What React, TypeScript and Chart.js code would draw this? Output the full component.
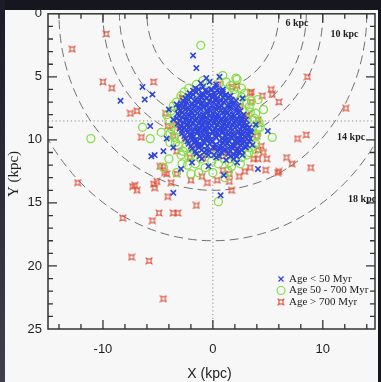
import { useEffect, useRef } from 'react';
import { Chart, registerables } from 'chart.js';

Chart.register(...registerables);

// ---------- data ----------
const xTickValues = [-10, 0, 10];
const yTickValues = [0, 5, 10, 15, 20, 25];
const circleRadii = [6, 8.5, 10, 14, 18];
const circleLabels = ['6 kpc', '10 kpc', '14 kpc', '18 kpc'];
const legendLabels = ['Age < 50 Myr', 'Age 50 - 700 Myr', 'Age > 700 Myr'];
const sunDistance = 8.5;

// Age < 50 Myr (blue crosses)
const youngStars: number[][] = [
  [-8.4, 6.9], [-6.4, 5.8], [-5.5, 6.4], [-6.2, 6.8], [-5.7, 8.9], [-5.6, 11.3], [-5.3, 11.2], [-4.5, 10.9],
  [-4.2, 9.9], [-3.6, 10.6], [-3.6, 8.4], [-1.8, 3.3], [-1.5, 4.3], [-0.6, 5.1], [0.6, 5.0], [5.0, 9.3],
  [4.1, 12.3], [2.2, 11.8], [2.7, 11.2], [-3.6, 14.2], [0.7, 14.4], [2.7, 6.7], [-3.3, 7.2], [-2.9, 12.3],
  [1.0, 12.8], [-0.4, 12.1], [3.6, 10.4], [3.9, 8.8], [-4.0, 7.6], [-1.9, 11.8],
  [-1.1, 5.5], [-0.3, 5.4], [0.3, 5.6],
  [-1.6, 5.9], [-0.9, 5.8], [-0.2, 6.0], [0.3, 5.8], [0.9, 6.0],
  [-2.1, 6.3], [-1.5, 6.2], [-1.0, 6.4], [-0.4, 6.2], [0.1, 6.3], [0.6, 6.2], [1.2, 6.4],
  [-2.5, 6.7], [-2.0, 6.6], [-1.5, 6.8], [-1.0, 6.6], [-0.6, 6.7], [-0.1, 6.6], [0.4, 6.8], [0.9, 6.6], [1.4, 6.7],
  [-2.9, 7.1], [-2.4, 7.0], [-1.9, 7.2], [-1.4, 7.0], [-1.0, 7.1], [-0.5, 7.2], [0.0, 7.0], [0.5, 7.1], [1.0, 7.0],
  [1.5, 7.2], [1.9, 7.1],
  [-3.1, 7.5], [-2.6, 7.4], [-2.2, 7.6], [-1.7, 7.4], [-1.2, 7.5], [-0.8, 7.4], [-0.3, 7.6], [0.2, 7.5], [0.6, 7.4],
  [1.1, 7.6], [1.6, 7.4], [2.1, 7.5],
  [-3.2, 7.9], [-2.8, 7.8], [-2.3, 8.0], [-1.9, 7.8], [-1.4, 7.9], [-0.9, 8.0], [-0.5, 7.8], [0.0, 7.9], [0.4, 8.0],
  [0.9, 7.8], [1.3, 7.9], [1.8, 8.0], [2.3, 7.8],
  [-3.3, 8.3], [-2.8, 8.2], [-2.4, 8.4], [-1.9, 8.2], [-1.5, 8.3], [-1.0, 8.4], [-0.6, 8.2], [-0.1, 8.3], [0.3, 8.2],
  [0.8, 8.4], [1.2, 8.3], [1.7, 8.2], [2.2, 8.4], [2.6, 8.3],
  [-3.2, 8.7], [-2.7, 8.6], [-2.3, 8.8], [-1.8, 8.6], [-1.3, 8.7], [-0.9, 8.8], [-0.4, 8.6], [0.1, 8.7], [0.5, 8.6],
  [1.0, 8.8], [1.4, 8.7], [1.9, 8.6], [2.4, 8.8], [2.8, 8.7],
  [-3.0, 9.1], [-2.6, 9.0], [-2.1, 9.2], [-1.6, 9.0], [-1.2, 9.1], [-0.7, 9.2], [-0.3, 9.0], [0.2, 9.1], [0.7, 9.0],
  [1.1, 9.2], [1.6, 9.1], [2.0, 9.0], [2.5, 9.2], [2.9, 9.1], [3.3, 9.0],
  [-2.8, 9.5], [-2.3, 9.4], [-1.9, 9.6], [-1.4, 9.4], [-1.0, 9.5], [-0.5, 9.6], [0.0, 9.4], [0.4, 9.5], [0.9, 9.4],
  [1.4, 9.6], [1.8, 9.5], [2.3, 9.4], [2.7, 9.6], [3.1, 9.5], [3.5, 9.4],
  [-2.5, 9.9], [-2.0, 9.8], [-1.6, 10.0], [-1.1, 9.8], [-0.7, 9.9], [-0.2, 10.0], [0.3, 9.8], [0.8, 9.9], [1.2, 10.0],
  [1.7, 9.8], [2.1, 9.9], [2.6, 10.0], [3.0, 9.8], [3.4, 9.9],
  [-2.2, 10.3], [-1.7, 10.2], [-1.3, 10.4], [-0.8, 10.2], [-0.3, 10.3], [0.2, 10.4], [0.9, 10.2], [1.3, 10.3],
  [1.8, 10.4], [2.2, 10.2], [2.7, 10.3], [3.1, 10.4],
  [-1.9, 10.7], [-1.3, 10.6], [-0.6, 10.8], [0.0, 10.6], [0.7, 10.7], [1.2, 10.8], [1.7, 10.6], [2.2, 10.7],
  [2.6, 10.8], [3.0, 10.6],
  [-1.5, 11.1], [-0.8, 11.0], [0.1, 11.2], [0.8, 11.0], [1.4, 11.1], [1.9, 11.2], [2.4, 11.0],
  [-1.0, 11.5], [0.3, 11.4], [1.2, 11.6], [1.9, 11.5],
  // second, interleaved layer of the dense core
  [-1.8, 6.1], [-1.3, 6.0], [-0.7, 6.1], [-0.1, 6.0], [0.4, 6.1], [0.9, 6.2],
  [-2.3, 6.5], [-1.8, 6.4], [-1.2, 6.5], [-0.8, 6.4], [-0.3, 6.5], [0.2, 6.5], [0.7, 6.4], [1.1, 6.5], [1.6, 6.5],
  [-2.7, 6.9], [-2.2, 6.8], [-1.7, 6.9], [-1.2, 6.8], [-0.8, 6.9], [-0.3, 6.9], [0.2, 6.8], [0.7, 6.9], [1.2, 6.9],
  [1.7, 6.8], [2.1, 6.9],
  [-3.0, 7.3], [-2.5, 7.2], [-2.1, 7.3], [-1.6, 7.3], [-1.1, 7.2], [-0.6, 7.3], [-0.1, 7.3], [0.3, 7.2], [0.8, 7.3],
  [1.3, 7.3], [1.8, 7.2], [2.3, 7.3],
  [-3.0, 7.7], [-2.5, 7.6], [-2.0, 7.7], [-1.6, 7.7], [-1.1, 7.6], [-0.6, 7.7], [-0.2, 7.7], [0.3, 7.6], [0.7, 7.7],
  [1.2, 7.7], [1.6, 7.6], [2.1, 7.7], [2.5, 7.7],
  [-3.1, 8.1], [-2.6, 8.0], [-2.1, 8.1], [-1.7, 8.1], [-1.2, 8.0], [-0.8, 8.1], [-0.3, 8.1], [0.1, 8.0], [0.6, 8.1],
  [1.0, 8.1], [1.5, 8.0], [2.0, 8.1], [2.4, 8.1], [2.8, 8.0],
  [-3.0, 8.5], [-2.5, 8.4], [-2.1, 8.5], [-1.6, 8.5], [-1.1, 8.4], [-0.7, 8.5], [-0.2, 8.5], [0.3, 8.4], [0.7, 8.5],
  [1.2, 8.5], [1.7, 8.4], [2.1, 8.5], [2.6, 8.5], [3.0, 8.4],
  [-2.9, 8.9], [-2.4, 8.8], [-2.0, 8.9], [-1.5, 8.9], [-1.0, 8.8], [-0.5, 8.9], [-0.1, 8.9], [0.4, 8.8], [0.9, 8.9],
  [1.3, 8.9], [1.8, 8.8], [2.2, 8.9], [2.7, 8.9], [3.1, 8.8],
  [-2.8, 9.3], [-2.4, 9.2], [-1.8, 9.3], [-1.4, 9.3], [-0.9, 9.2], [-0.5, 9.3], [0.0, 9.3], [0.5, 9.2], [0.9, 9.3],
  [1.4, 9.3], [1.8, 9.2], [2.3, 9.3], [2.7, 9.3], [3.1, 9.2], [3.4, 9.3],
  [-2.6, 9.7], [-2.1, 9.6], [-1.7, 9.7], [-1.2, 9.7], [-0.8, 9.6], [-0.3, 9.7], [0.2, 9.7], [0.6, 9.6], [1.1, 9.7],
  [1.6, 9.7], [2.0, 9.6], [2.5, 9.7], [2.9, 9.7], [3.3, 9.6],
  [-2.3, 10.1], [-1.9, 10.0], [-1.4, 10.1], [-0.9, 10.1], [-0.5, 10.0], [0.0, 10.1], [0.6, 10.1], [1.1, 10.0],
  [1.5, 10.1], [2.0, 10.1], [2.4, 10.0], [2.9, 10.1], [3.3, 10.1],
  [-2.0, 10.5], [-1.5, 10.4], [-1.0, 10.5], [-0.5, 10.5], [0.2, 10.6], [0.7, 10.5], [1.1, 10.4], [1.6, 10.5],
  [2.0, 10.5], [2.5, 10.4], [2.9, 10.5],
  [-1.6, 10.9], [-1.0, 10.8], [-0.3, 10.9], [0.4, 10.9], [1.0, 10.8], [1.6, 10.9], [2.1, 10.9], [2.6, 10.8],
  [-1.2, 11.3], [-0.4, 11.2], [0.6, 11.3], [1.6, 11.3], [2.2, 11.3],
];

// Age 50 - 700 Myr (green circles)
const midStars: number[][] = [
  [-11.1, 9.9], [-6.4, 9.0], [-5.7, 9.9], [-4.7, 9.4], [-4.5, 12.2], [-1.1, 2.5], [2.1, 5.1], [0.9, 4.9],
  [4.1, 6.8], [5.4, 9.8], [3.6, 8.4], [1.1, 13.0], [-1.3, 12.6], [0.5, 14.9], [-2.8, 11.9], [2.6, 5.9],
  [3.5, 6.9], [2.2, 5.2], [4.3, 9.0], [3.9, 10.8], [-4.0, 11.5], [-3.3, 12.6], [4.6, 7.6],
  [-1.5, 5.6], [-0.5, 5.5], [0.6, 5.5], [1.6, 5.7],
  [-2.6, 6.2], [-1.8, 6.4], [1.3, 6.2], [2.0, 6.4], [2.9, 6.3],
  [-3.3, 7.0], [-2.6, 6.9], [-0.8, 7.1], [1.1, 7.0], [2.4, 6.9], [3.1, 7.1],
  [-3.8, 7.7], [-3.0, 7.6], [-1.2, 7.8], [0.6, 7.7], [2.7, 7.6], [3.4, 7.8],
  [-4.0, 8.4], [-3.4, 8.5], [-2.0, 8.3], [0.0, 8.4], [1.8, 8.5], [3.1, 8.4], [3.8, 8.3],
  [-3.8, 9.1], [-3.3, 9.2], [-1.0, 9.0], [0.9, 9.1], [3.6, 9.2], [4.1, 9.1],
  [-3.5, 9.8], [-2.9, 9.9], [-0.3, 9.7], [1.5, 9.8], [3.8, 9.8],
  [-3.1, 10.5], [-2.5, 10.6], [-0.9, 10.4], [1.0, 10.5], [3.5, 10.6],
  [-2.9, 11.2], [-2.2, 11.3], [-0.3, 11.1], [1.0, 11.5], [2.0, 11.4], [3.1, 11.2],
  [-2.3, 12.0], [-1.6, 11.9], [-0.7, 12.2], [0.5, 11.9], [1.7, 12.1], [2.5, 11.9],
  [-2.0, 12.7], [0.0, 12.6], [1.4, 12.5],
  [-0.5, 8.0], [1.5, 8.0], [-1.6, 9.6], [2.2, 9.7], [0.3, 10.9], [-2.2, 7.3], [2.0, 10.7], [-1.5, 10.8],
  [-3.9, 10.2], [-4.2, 8.0], [-3.6, 7.3], [-2.9, 6.5], [-2.2, 5.9], [-0.9, 5.3], [1.2, 5.4], [1.9, 6.0],
  [2.6, 6.6], [3.3, 7.4], [3.9, 7.9], [4.2, 8.6], [4.0, 9.6], [3.9, 10.3], [3.3, 11.0], [2.6, 11.4],
  [1.5, 11.8], [-0.1, 11.7], [-1.1, 11.5], [-2.0, 11.2], [-2.7, 10.9], [-3.4, 10.2], [-3.9, 9.5],
];

// Age > 700 Myr (red symbols)
const oldStars: number[][] = [
  [-9.7, 1.6], [-12.8, 2.8], [-10.0, 5.4], [-9.2, 5.9], [-5.4, 5.4], [-7.5, 7.9], [-6.9, 7.7], [-6.5, 9.8],
  [-12.3, 13.4], [-7.1, 13.6], [-5.4, 13.5], [-7.3, 13.7], [-6.9, 14.0], [-5.3, 13.8], [-5.1, 13.3], [-8.2, 16.2],
  [-7.4, 19.3], [-5.8, 19.6], [-4.5, 22.6], [-5.5, 16.4], [-4.9, 15.8], [-3.6, 15.8], [-3.2, 15.8], [-4.1, 14.5],
  [-1.5, 15.2], [1.7, 14.0], [8.6, 5.0], [12.1, 7.5], [3.5, 6.2], [5.3, 6.0], [5.4, 6.4], [4.5, 6.5],
  [3.5, 7.0], [6.0, 7.0], [4.1, 8.4], [3.1, 8.1], [8.5, 9.6], [7.7, 9.9], [4.0, 9.7], [4.4, 10.5],
  [4.1, 10.8], [4.9, 11.5], [6.7, 11.4], [7.2, 11.9], [5.9, 12.6], [3.4, 12.2], [4.1, 11.5], [1.5, 12.7],
  [1.5, 13.3], [0.4, 13.2], [-0.5, 13.4], [8.9, 12.2], [6.0, 12.5], [4.8, 12.4], [3.7, 11.5], [4.6, 11.0],
  [-4.5, 12.1], [-4.2, 12.7], [-3.3, 12.7], [-2.8, 6.7], [-4.3, 7.9], [-4.1, 8.9], [-3.0, 9.0], [-3.6, 9.7],
  [-2.7, 6.7], [-2.8, 7.7], [-3.5, 8.8], [-2.5, 9.9], [-3.3, 10.9], [-1.6, 10.5], [-2.1, 11.4], [-0.9, 11.4],
  [0.9, 11.3], [0.2, 10.7], [1.4, 11.0], [2.3, 10.5], [2.3, 9.6], [3.2, 9.1], [3.2, 9.9], [3.4, 6.3],
  [2.5, 7.3], [2.9, 8.1], [0.5, 5.6], [2.2, 5.7], [-4.8, 12.1], [-4.4, 12.6], [1.7, 5.8],
  [-2.0, 13.2], [-1.0, 12.9], [0.9, 12.4], [2.4, 12.9], [2.9, 12.5], [-3.8, 13.4],
];

// ---------- styles ----------
const BLUE = '#2f43e0';
const GREEN = '#86dd45';
const RED = '#de4a34';
const FRAME = '#333333';

function makeOldMarker(color: string) {
  const c = document.createElement('canvas');
  c.width = 8;
  c.height = 8;
  const g = c.getContext('2d')!;
  g.strokeStyle = color;
  g.lineWidth = 1.1;
  g.strokeRect(2, 2, 4, 4);
  g.beginPath();
  g.moveTo(0.6, 0.6); g.lineTo(2.2, 2.2);
  g.moveTo(7.4, 0.6); g.lineTo(5.8, 2.2);
  g.moveTo(0.6, 7.4); g.lineTo(2.2, 5.8);
  g.moveTo(7.4, 7.4); g.lineTo(5.8, 5.8);
  g.stroke();
  return c;
}

const toPoints = (arr: number[][]) => arr.map(([x, y]) => ({ x, y }));

export default function App() {
  const ref = useRef<HTMLCanvasElement | null>(null);

  useEffect(() => {
    document.body.style.margin = '0';
    const canvas = ref.current;
    if (!canvas) return;
    const oldMarker = makeOldMarker(RED);

    const decor = {
      id: 'decor',
      beforeDatasetsDraw(chart: any) {
        const { ctx, chartArea: a, scales } = chart;
        const x = scales.x;
        const y = scales.y;
        ctx.save();
        ctx.beginPath();
        ctx.rect(a.left, a.top, a.right - a.left, a.bottom - a.top);
        ctx.clip();
        const x0 = x.getPixelForValue(0);
        const y0 = y.getPixelForValue(0);
        ctx.strokeStyle = '#8c8c8c';
        ctx.lineWidth = 1;
        ctx.setLineDash([1.2, 2.6]);
        ctx.beginPath();
        ctx.moveTo(x0, a.top);
        ctx.lineTo(x0, a.bottom);
        ctx.stroke();
        const ys = y.getPixelForValue(sunDistance);
        ctx.beginPath();
        ctx.moveTo(a.left, ys);
        ctx.lineTo(a.right, ys);
        ctx.stroke();
        ctx.setLineDash([9, 5]);
        ctx.strokeStyle = '#707070';
        for (const r of circleRadii) {
          const rx = Math.abs(x.getPixelForValue(r) - x0);
          const ry = Math.abs(y.getPixelForValue(r) - y0);
          ctx.beginPath();
          ctx.ellipse(x0, y0, rx, ry, 0, 0, Math.PI);
          ctx.stroke();
        }
        ctx.restore();
      },
      afterDatasetsDraw(chart: any) {
        const { ctx, chartArea: a, scales } = chart;
        const x = scales.x;
        const y = scales.y;
        ctx.save();
        ctx.setLineDash([]);
        ctx.strokeStyle = FRAME;
        ctx.lineWidth = 1.5;
        ctx.strokeRect(a.left, a.top, a.right - a.left, a.bottom - a.top);
        ctx.lineWidth = 1.3;
        ctx.beginPath();
        for (let v = -14; v <= 14; v += 2) {
          const px = x.getPixelForValue(v);
          const len = v % 10 === 0 ? 9 : 5;
          ctx.moveTo(px, a.bottom); ctx.lineTo(px, a.bottom - len);
          ctx.moveTo(px, a.top); ctx.lineTo(px, a.top + len);
        }
        for (let v = 1; v < 25; v += 1) {
          const py = y.getPixelForValue(v);
          const len = v % 5 === 0 ? 9 : 5;
          ctx.moveTo(a.left, py); ctx.lineTo(a.left + len, py);
          ctx.moveTo(a.right, py); ctx.lineTo(a.right - len, py);
        }
        ctx.stroke();

        ctx.fillStyle = '#222';
        ctx.font = 'bold 10px "Liberation Serif"';
        ctx.textBaseline = 'middle';
        ctx.textAlign = 'left';
        const labelAnchors = [[6.6, 0.75], [10.7, 1.65], [11.3, 9.8], [12.3, 14.75]];
        circleLabels.forEach((t, i) => {
          ctx.fillText(t, x.getPixelForValue(labelAnchors[i][0]), y.getPixelForValue(labelAnchors[i][1]));
        });

        const lx = 281;
        const lys = [279, 290.5, 302];
        ctx.font = '11px "Liberation Serif"';
        ctx.fillStyle = '#222';
        legendLabels.forEach((t, i) => ctx.fillText(t, lx + 8, lys[i]));
        ctx.strokeStyle = BLUE;
        ctx.lineWidth = 1.2;
        ctx.beginPath();
        ctx.moveTo(lx - 2.5, lys[0] - 2.5); ctx.lineTo(lx + 2.5, lys[0] + 2.5);
        ctx.moveTo(lx + 2.5, lys[0] - 2.5); ctx.lineTo(lx - 2.5, lys[0] + 2.5);
        ctx.stroke();
        ctx.strokeStyle = GREEN;
        ctx.beginPath();
        ctx.arc(lx, lys[1], 4, 0, Math.PI * 2);
        ctx.stroke();
        ctx.drawImage(oldMarker, lx - 4, lys[2] - 4);

        ctx.fillStyle = '#222';
        ctx.font = '14px "Liberation Sans"';
        ctx.textAlign = 'center';
        ctx.fillText('X (kpc)', (a.left + a.right) / 2 - 2, 374);
        ctx.save();
        ctx.translate(14, 174);
        ctx.rotate(-Math.PI / 2);
        ctx.font = '15px "Liberation Serif"';
        ctx.fillText('Y (kpc)', 0, 0);
        ctx.restore();
        ctx.restore();
      },
    };

    const chart = new Chart(canvas, {
      type: 'scatter',
      data: {
        datasets: [
          {
            label: legendLabels[0],
            data: toPoints(youngStars),
            pointStyle: 'crossRot',
            radius: 3.8,
            borderColor: BLUE,
            backgroundColor: BLUE,
            borderWidth: 1.6,
            order: 1,
          },
          {
            label: legendLabels[1],
            data: toPoints(midStars),
            pointStyle: 'circle',
            radius: 4,
            borderColor: GREEN,
            backgroundColor: 'rgba(0,0,0,0)',
            borderWidth: 1.3,
            order: 2,
          },
          {
            label: legendLabels[2],
            data: toPoints(oldStars),
            pointStyle: oldMarker as any,
            radius: 4,
            borderColor: RED,
            backgroundColor: RED,
            order: 3,
          },
        ],
      },
      options: {
        animation: false,
        responsive: false,
        devicePixelRatio: 1,
        events: [],
        layout: { padding: { top: 12, right: 6, left: 0, bottom: 0 } },
        plugins: { legend: { display: false }, tooltip: { enabled: false } },
        scales: {
          x: {
            type: 'linear',
            min: -15,
            max: 14.75,
            grid: { display: false, drawTicks: false },
            border: { display: false },
            afterBuildTicks: (s: any) => { s.ticks = xTickValues.map((v) => ({ value: v })); },
            afterFit: (s: any) => { s.height = 53; },
            ticks: { color: '#1e1e1e', padding: 13, font: { family: '"Liberation Sans"', size: 13 } },
          },
          y: {
            type: 'linear',
            reverse: true,
            min: 0,
            max: 25,
            grid: { display: false, drawTicks: false },
            border: { display: false },
            afterBuildTicks: (s: any) => { s.ticks = yTickValues.map((v) => ({ value: v })); },
            afterFit: (s: any) => { s.width = 48; },
            ticks: { color: '#1e1e1e', padding: 6, font: { family: '"Liberation Sans"', size: 13 } },
          },
        },
      },
      plugins: [decor],
    });
    return () => chart.destroy();
  }, []);

  return (
    <div style={{ position: 'relative', width: 381, height: 382, background: '#16161f', overflow: 'hidden' }}>
      <div style={{ position: 'absolute', left: 0, top: 0, width: 5, height: 382, background: 'linear-gradient(#1c1c28, #403f50)' }} />
      <div style={{ position: 'absolute', left: 5, top: 10, width: 373, height: 372, background: '#f7f7f7' }} />
      <canvas ref={ref} width={381} height={382} style={{ position: 'absolute', left: 0, top: 0, display: 'block' }} />
    </div>
  );
}
